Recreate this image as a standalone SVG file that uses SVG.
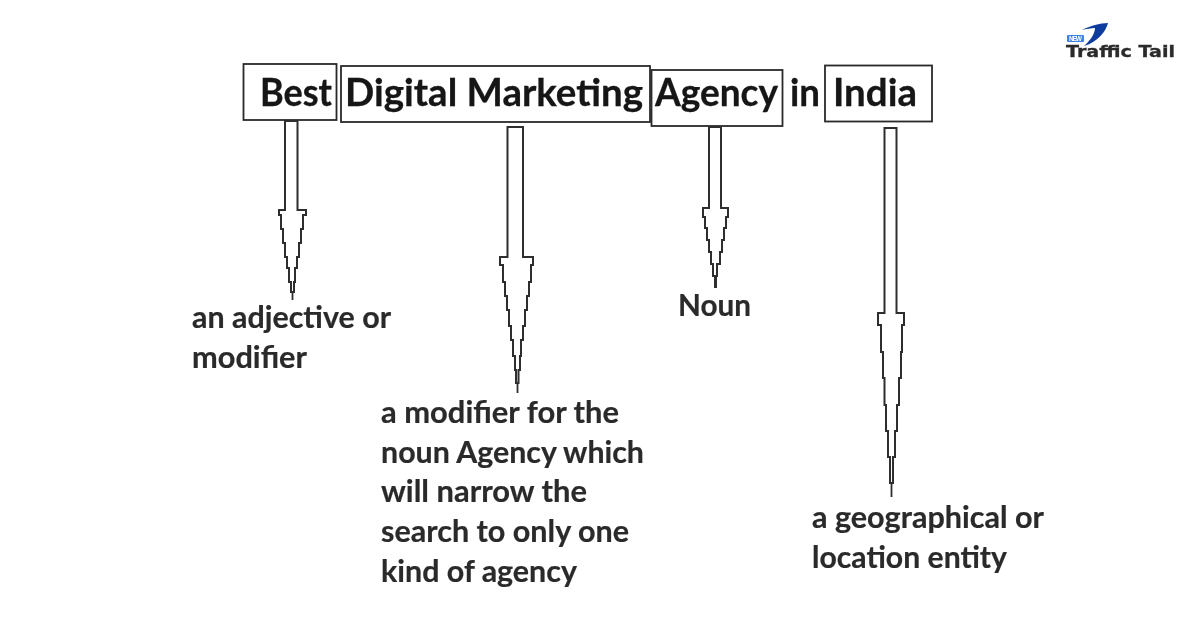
<svg xmlns="http://www.w3.org/2000/svg" width="1200" height="628" viewBox="0 0 1200 628">
<defs>
<filter id="soft" x="-5%" y="-5%" width="110%" height="110%"><feGaussianBlur stdDeviation="0.7"/></filter>
<filter id="softer" x="-5%" y="-5%" width="110%" height="110%"><feGaussianBlur stdDeviation="0.6"/></filter>
</defs>
<style>
.box{fill:none;stroke:#2a2a2a;stroke-width:1.8}
.arrow{fill:#fff;stroke:#2e2e2e;stroke-width:2;stroke-linejoin:miter}
.tip{fill:none;stroke:#2e2e2e;stroke-width:1.8}
.head{font-family:Lato,"Liberation Sans",sans-serif;font-size:38px;font-weight:700;fill:#141414;stroke:#141414;stroke-width:.3}
.note{font-family:Lato,"Liberation Sans",sans-serif;font-size:30px;font-weight:700;fill:#2a2a2a;stroke:#2a2a2a;stroke-width:.2}
</style>
<rect width="1200" height="628" fill="#fff"/>
<g id="title" filter="url(#soft)">
<g id="node-best"><rect class="box" x="243.500" y="64" width="93" height="56"/><text class="head" x="260" y="106" textLength="72" lengthAdjust="spacingAndGlyphs">Best</text></g>
<g id="node-digital-marketing"><rect class="box" x="341" y="66" width="309" height="56"/><text class="head" x="345" y="106" textLength="298" lengthAdjust="spacingAndGlyphs">Digital Marketing</text></g>
<g id="node-agency"><rect class="box" x="651.500" y="70" width="131" height="56"/><text class="head" x="655" y="106" textLength="123" lengthAdjust="spacingAndGlyphs">Agency</text></g>
<text class="head" x="790" y="106" textLength="30" lengthAdjust="spacingAndGlyphs">in</text>
<g id="node-india"><rect class="box" x="825" y="65.500" width="107" height="56"/><text class="head" x="833" y="106" textLength="84" lengthAdjust="spacingAndGlyphs">India</text></g>
</g>
<g id="connectors" filter="url(#softer)">
<path class="arrow" d="M285 121V210H279V215H281V229H283V243H285V257H287V268H289V282H291V292H294V282H295V268H297V257H299V243H301V229H303V215H306V210H297.500V121Z"/>
<path class="tip" d="M292.500 292V300"/>
<path class="arrow" d="M507.500 127V257H500V265H503V282H505V296H507V310H509V326H511V340H513V356H515V370H516V383H518.500V370H520V356H521V340H523V326H525V310H527V296H529V282H531V265H533V257H523V127Z"/>
<path class="tip" d="M517.500 383V393"/>
<path class="arrow" d="M709 127V208H703V217H705V228H707V240H709V252H711V264H713V276H717V264H720V252H722V240H724V228H726V217H728V208H721V127Z"/>
<path class="tip" style="stroke-width:3" d="M715.500 276V288"/>
<path class="arrow" d="M884.500 128V313H878V325H881V352H883V378H884.500V405H886V431H888V457H890V483H893V457H895V431H897V405H899V378H901V352H902V325H904V313H896.500V128Z"/>
<path class="tip" d="M891.500 483V497"/>
</g>
<g id="notes" filter="url(#softer)">
<g id="node-adjective"><text class="note" x="192" y="328" textLength="199" lengthAdjust="spacingAndGlyphs">an adjective or</text><text class="note" x="192" y="368" textLength="115" lengthAdjust="spacingAndGlyphs">modifier</text></g>
<g id="node-modifier"><text class="note" x="381" y="423" textLength="238" lengthAdjust="spacingAndGlyphs">a modifier for the</text><text class="note" x="381" y="463" textLength="263" lengthAdjust="spacingAndGlyphs">noun Agency which</text><text class="note" x="381" y="502" textLength="206" lengthAdjust="spacingAndGlyphs">will narrow the</text><text class="note" x="381" y="542" textLength="248" lengthAdjust="spacingAndGlyphs">search to only one</text><text class="note" x="381" y="582" textLength="196" lengthAdjust="spacingAndGlyphs">kind of agency</text></g>
<g id="node-noun"><text class="note" x="678" y="316" textLength="73" lengthAdjust="spacingAndGlyphs">Noun</text></g>
<g id="node-location"><text class="note" x="812" y="528" textLength="232" lengthAdjust="spacingAndGlyphs">a geographical or</text><text class="note" x="812" y="568" textLength="195" lengthAdjust="spacingAndGlyphs">location entity</text></g>
</g>
<g id="logo" filter="url(#softer)">
<path d="M1082 30C1090 26 1100 23 1108 23C1106 31 1098 42 1084 46C1091 40 1095 33 1095 28C1091 28 1086 29 1082 30Z" fill="#0d3a9e"/>
<rect x="1067" y="35" width="17" height="7" rx="1" fill="#3b82e6"/>
<text x="1069" y="41" font-family="Liberation Sans,sans-serif" font-size="6.500" font-weight="700" fill="#fff" textLength="13">NEW</text>
<text x="1066" y="57" font-family="DejaVu Sans,sans-serif" font-size="16px" font-weight="700" fill="#2b2b2b" stroke="#2b2b2b" stroke-width=".3" textLength="109" lengthAdjust="spacingAndGlyphs">Traffic Tail</text>
</g>
</svg>
